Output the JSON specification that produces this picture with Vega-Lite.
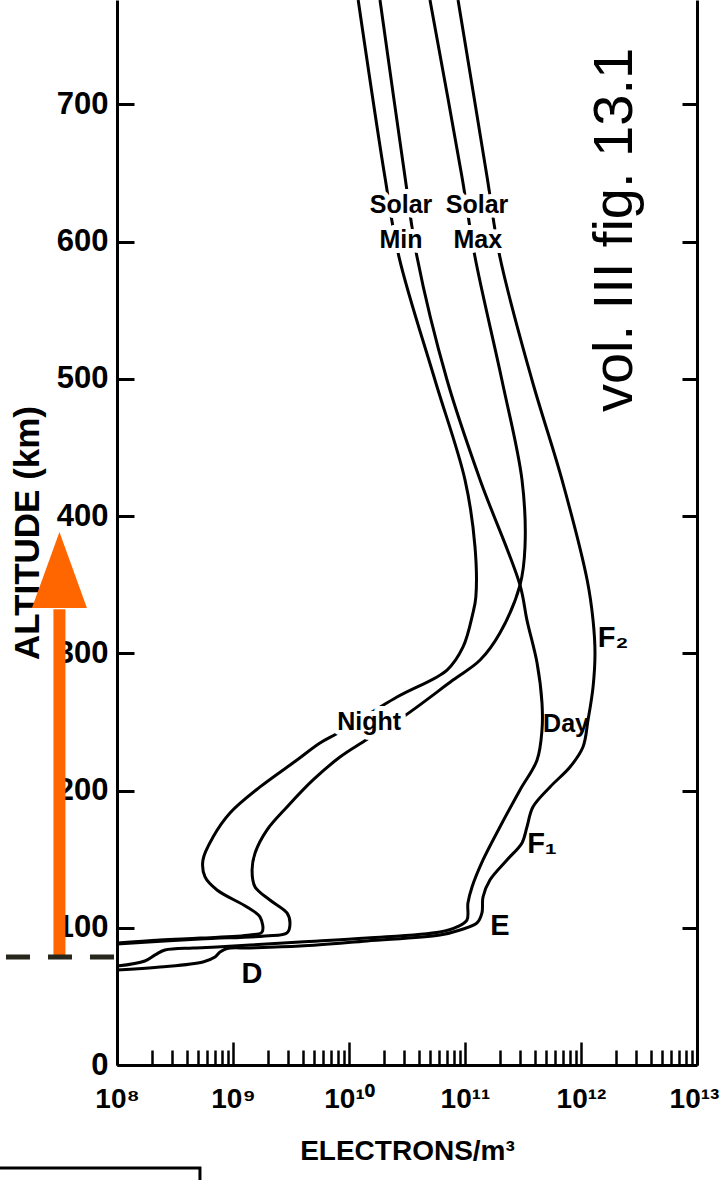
{
  "$schema": "https://vega.github.io/schema/vega-lite/v6.json",
  "width": 580,
  "height": 1065,
  "autosize": {"type": "none"},
  "padding": {"left": 117, "top": 0, "right": 23, "bottom": 115},
  "background": "white",
  "config": {"view": {"stroke": null}, "axis": {"grid": false}},
  "datasets": {
    "curves": [
      {"curve": "Night Solar Min", "i": 0, "n": 1.20e10, "alt": 776},
      {"curve": "Night Solar Min", "i": 1, "n": 2.04e10, "alt": 647.0},
      {"curve": "Night Solar Min", "i": 2, "n": 2.70e10, "alt": 588.7},
      {"curve": "Night Solar Min", "i": 3, "n": 5.51e10, "alt": 499.1},
      {"curve": "Night Solar Min", "i": 4, "n": 1.00e11, "alt": 426.3},
      {"curve": "Night Solar Min", "i": 5, "n": 1.22e11, "alt": 377.4},
      {"curve": "Night Solar Min", "i": 6, "n": 1.24e11, "alt": 341.0},
      {"curve": "Night Solar Min", "i": 7, "n": 1.17e11, "alt": 329.3},
      {"curve": "Night Solar Min", "i": 8, "n": 9.62e10, "alt": 304.6},
      {"curve": "Night Solar Min", "i": 9, "n": 7.00e10, "alt": 287.8},
      {"curve": "Night Solar Min", "i": 10, "n": 2.59e10, "alt": 268.1},
      {"curve": "Night Solar Min", "i": 11, "n": 8.04e9, "alt": 241.9},
      {"curve": "Night Solar Min", "i": 12, "n": 5.62e9, "alt": 234.6},
      {"curve": "Night Solar Min", "i": 13, "n": 3.56e9, "alt": 222.2},
      {"curve": "Night Solar Min", "i": 14, "n": 1.71e9, "alt": 202.6},
      {"curve": "Night Solar Min", "i": 15, "n": 9.42e8, "alt": 183.6},
      {"curve": "Night Solar Min", "i": 16, "n": 6.73e8, "alt": 166.1},
      {"curve": "Night Solar Min", "i": 17, "n": 5.51e8, "alt": 149.4},
      {"curve": "Night Solar Min", "i": 18, "n": 5.74e8, "alt": 137.0},
      {"curve": "Night Solar Min", "i": 19, "n": 7.28e8, "alt": 127.5},
      {"curve": "Night Solar Min", "i": 20, "n": 1.32e9, "alt": 115.1},
      {"curve": "Night Solar Min", "i": 21, "n": 1.71e9, "alt": 107.8},
      {"curve": "Night Solar Min", "i": 22, "n": 1.78e9, "alt": 96.9},
      {"curve": "Night Solar Min", "i": 23, "n": 1.40e9, "alt": 94.7},
      {"curve": "Night Solar Min", "i": 24, "n": 5.20e8, "alt": 92.5},
      {"curve": "Night Solar Min", "i": 25, "n": 2.35e8, "alt": 91.1},
      {"curve": "Night Solar Min", "i": 26, "n": 1.00e8, "alt": 88.9},

      {"curve": "Night Solar Max", "i": 0, "n": 4.99e10, "alt": 776},
      {"curve": "Night Solar Max", "i": 1, "n": 9.42e10, "alt": 647.0},
      {"curve": "Night Solar Max", "i": 2, "n": 1.22e11, "alt": 588.7},
      {"curve": "Night Solar Max", "i": 3, "n": 2.08e11, "alt": 499.1},
      {"curve": "Night Solar Max", "i": 4, "n": 3.10e11, "alt": 426.3},
      {"curve": "Night Solar Max", "i": 5, "n": 3.29e11, "alt": 377.4},
      {"curve": "Night Solar Max", "i": 6, "n": 2.98e11, "alt": 349.7},
      {"curve": "Night Solar Max", "i": 7, "n": 2.00e11, "alt": 314.8},
      {"curve": "Night Solar Max", "i": 8, "n": 1.35e11, "alt": 295.1},
      {"curve": "Night Solar Max", "i": 9, "n": 7.88e10, "alt": 280.5},
      {"curve": "Night Solar Max", "i": 10, "n": 2.92e10, "alt": 253.6},
      {"curve": "Night Solar Max", "i": 11, "n": 1.32e10, "alt": 235.4},
      {"curve": "Night Solar Max", "i": 12, "n": 8.36e9, "alt": 224.4},
      {"curve": "Night Solar Max", "i": 13, "n": 4.90e9, "alt": 207.7},
      {"curve": "Night Solar Max", "i": 14, "n": 2.92e9, "alt": 188.0},
      {"curve": "Night Solar Max", "i": 15, "n": 1.96e9, "alt": 171.2},
      {"curve": "Night Solar Max", "i": 16, "n": 1.55e9, "alt": 154.5},
      {"curve": "Night Solar Max", "i": 17, "n": 1.46e9, "alt": 142.1},
      {"curve": "Night Solar Max", "i": 18, "n": 1.55e9, "alt": 129.7},
      {"curve": "Night Solar Max", "i": 19, "n": 2.08e9, "alt": 120.2},
      {"curve": "Night Solar Max", "i": 20, "n": 2.92e9, "alt": 110.8},
      {"curve": "Night Solar Max", "i": 21, "n": 3.10e9, "alt": 103.5},
      {"curve": "Night Solar Max", "i": 22, "n": 2.92e9, "alt": 96.2},
      {"curve": "Night Solar Max", "i": 23, "n": 1.89e9, "alt": 94.0},
      {"curve": "Night Solar Max", "i": 24, "n": 5.20e8, "alt": 91.8},
      {"curve": "Night Solar Max", "i": 25, "n": 1.00e8, "alt": 88.2},

      {"curve": "Day Solar Min", "i": 0, "n": 1.85e10, "alt": 776},
      {"curve": "Day Solar Min", "i": 1, "n": 3.04e10, "alt": 647.0},
      {"curve": "Day Solar Min", "i": 2, "n": 3.86e10, "alt": 588.7},
      {"curve": "Day Solar Min", "i": 3, "n": 7.00e10, "alt": 499.1},
      {"curve": "Day Solar Min", "i": 4, "n": 1.35e11, "alt": 426.3},
      {"curve": "Day Solar Min", "i": 5, "n": 2.98e11, "alt": 349.7},
      {"curve": "Day Solar Min", "i": 6, "n": 3.42e11, "alt": 324.2},
      {"curve": "Day Solar Min", "i": 7, "n": 4.18e11, "alt": 292.9},
      {"curve": "Day Solar Min", "i": 8, "n": 4.61e11, "alt": 263.8},
      {"curve": "Day Solar Min", "i": 9, "n": 4.61e11, "alt": 244.1},
      {"curve": "Day Solar Min", "i": 10, "n": 4.18e11, "alt": 222.2},
      {"curve": "Day Solar Min", "i": 11, "n": 2.98e11, "alt": 200.4},
      {"curve": "Day Solar Min", "i": 12, "n": 2.00e11, "alt": 173.4},
      {"curve": "Day Solar Min", "i": 13, "n": 1.43e11, "alt": 149.4},
      {"curve": "Day Solar Min", "i": 14, "n": 1.15e11, "alt": 129.7},
      {"curve": "Day Solar Min", "i": 15, "n": 1.06e11, "alt": 118.0},
      {"curve": "Day Solar Min", "i": 16, "n": 1.04e11, "alt": 105.7},
      {"curve": "Day Solar Min", "i": 17, "n": 8.53e10, "alt": 100.6},
      {"curve": "Day Solar Min", "i": 18, "n": 6.08e10, "alt": 96.9},
      {"curve": "Day Solar Min", "i": 19, "n": 1.43e10, "alt": 92.5},
      {"curve": "Day Solar Min", "i": 20, "n": 3.78e9, "alt": 89.6},
      {"curve": "Day Solar Min", "i": 21, "n": 1.40e9, "alt": 87.4},
      {"curve": "Day Solar Min", "i": 22, "n": 7.28e8, "alt": 86.0},
      {"curve": "Day Solar Min", "i": 23, "n": 4.52e8, "alt": 85.3},
      {"curve": "Day Solar Min", "i": 24, "n": 2.59e8, "alt": 83.8},
      {"curve": "Day Solar Min", "i": 25, "n": 2.13e8, "alt": 80.2},
      {"curve": "Day Solar Min", "i": 26, "n": 1.74e8, "alt": 75.8},
      {"curve": "Day Solar Min", "i": 27, "n": 1.00e8, "alt": 72.1},

      {"curve": "Day Solar Max", "i": 0, "n": 8.71e10, "alt": 776},
      {"curve": "Day Solar Max", "i": 1, "n": 1.55e11, "alt": 647.0},
      {"curve": "Day Solar Max", "i": 2, "n": 2.00e11, "alt": 588.7},
      {"curve": "Day Solar Max", "i": 3, "n": 3.78e11, "alt": 499.1},
      {"curve": "Day Solar Max", "i": 4, "n": 6.86e11, "alt": 426.3},
      {"curve": "Day Solar Max", "i": 5, "n": 1.13e12, "alt": 353.4},
      {"curve": "Day Solar Max", "i": 6, "n": 1.27e12, "alt": 324.2},
      {"curve": "Day Solar Max", "i": 7, "n": 1.32e12, "alt": 300.2},
      {"curve": "Day Solar Max", "i": 8, "n": 1.27e12, "alt": 275.4},
      {"curve": "Day Solar Max", "i": 9, "n": 1.15e12, "alt": 251.4},
      {"curve": "Day Solar Max", "i": 10, "n": 1.04e12, "alt": 231.7},
      {"curve": "Day Solar Max", "i": 11, "n": 8.04e11, "alt": 217.1},
      {"curve": "Day Solar Max", "i": 12, "n": 5.41e11, "alt": 202.6},
      {"curve": "Day Solar Max", "i": 13, "n": 3.85e11, "alt": 188.0},
      {"curve": "Day Solar Max", "i": 14, "n": 3.42e11, "alt": 173.4},
      {"curve": "Day Solar Max", "i": 15, "n": 3.10e11, "alt": 161.8},
      {"curve": "Day Solar Max", "i": 16, "n": 2.30e11, "alt": 149.4},
      {"curve": "Day Solar Max", "i": 17, "n": 1.64e11, "alt": 134.8},
      {"curve": "Day Solar Max", "i": 18, "n": 1.43e11, "alt": 122.4},
      {"curve": "Day Solar Max", "i": 19, "n": 1.40e11, "alt": 110.8},
      {"curve": "Day Solar Max", "i": 20, "n": 1.27e11, "alt": 103.5},
      {"curve": "Day Solar Max", "i": 21, "n": 9.06e10, "alt": 98.4},
      {"curve": "Day Solar Max", "i": 22, "n": 6.08e10, "alt": 94.7},
      {"curve": "Day Solar Max", "i": 23, "n": 1.43e10, "alt": 90.4},
      {"curve": "Day Solar Max", "i": 24, "n": 3.78e9, "alt": 86.7},
      {"curve": "Day Solar Max", "i": 25, "n": 1.40e9, "alt": 85.3},
      {"curve": "Day Solar Max", "i": 26, "n": 8.87e8, "alt": 84.9},
      {"curve": "Day Solar Max", "i": 27, "n": 7.73e8, "alt": 82.3},
      {"curve": "Day Solar Max", "i": 28, "n": 7.00e8, "alt": 78.7},
      {"curve": "Day Solar Max", "i": 29, "n": 5.51e8, "alt": 75.1},
      {"curve": "Day Solar Max", "i": 30, "n": 2.35e8, "alt": 71.4},
      {"curve": "Day Solar Max", "i": 31, "n": 1.00e8, "alt": 69.2}
    ],
    "words": [
      {"label": "Solar", "n": 2.81e10, "alt": 620.8},
      {"label": "Min", "n": 2.81e10, "alt": 595.3},
      {"label": "Solar", "n": 1.27e11, "alt": 620.8},
      {"label": "Max", "n": 1.29e11, "alt": 595.3},
      {"label": "Night", "n": 1.49e10, "alt": 244.1}
    ],
    "dayWord": [
      {"label": "Day", "n": 7.43e11, "alt": 242.6}
    ],
    "layers": [
      {"label": "F₂", "n": 1.89e12, "alt": 304.6},
      {"label": "F₁", "n": 4.61e11, "alt": 154.5},
      {"label": "E", "n": 2.00e11, "alt": 94.7},
      {"label": "D", "n": 1.46e9, "alt": 59.7}
    ],
    "note": [
      {"label": "vol. III fig. 13.1", "n": 2.75e12, "alt": 608.4}
    ],
    "level": [
      {"n": 9.8e6, "n2": 1.0e8, "alt": 78.7}
    ],
    "arrow": [
      {"n": 3.19e7, "alt": 78.7, "alt2": 332, "head": 360.7}
    ],
    "box": [
      {"n": 8.87e6, "n2": 5.19e8, "alt": -75.05, "alt2": -95}
    ]
  },
  "layer": [
    {
      "data": {"name": "curves"},
      "mark": {"type": "line", "color": "black", "strokeWidth": 3, "interpolate": "catmull-rom"},
      "encoding": {
        "x": {
          "field": "n", "type": "quantitative",
          "scale": {"type": "log", "domain": [1e8, 1e13], "nice": false},
          "axis": {
            "orient": "bottom",
            "values": [1e8, 1e9, 1e10, 1e11, 1e12, 1e13],
            "tickSize": -23, "tickWidth": 2.5, "tickColor": "black",
            "domainColor": "black", "domainWidth": 3,
            "labelExpr": "'10' + ['⁸','⁹','¹⁰','¹¹','¹²','¹³'][round(log(datum.value)/LN10) - 8]",
            "labelFont": "Liberation Sans",
            "labelFontSize": 28, "labelFontWeight": "bold", "labelColor": "black",
            "labelPadding": 43, "labelFlush": false, "labelOverlap": false,
            "labelOffset": {"condition": {"test": "datum.value > 5e12", "value": -3}, "value": 0},
            "title": "ELECTRONS/m³",
            "titleFont": "Liberation Sans",
            "titleFontSize": 28, "titleFontWeight": "bold", "titleColor": "black",
            "titlePadding": 24, "grid": false
          }
        },
        "y": {
          "field": "alt", "type": "quantitative",
          "scale": {"domain": [0, 776], "nice": false, "zero": false},
          "axis": {
            "orient": "left",
            "values": [0, 100, 200, 300, 400, 500, 600, 700],
            "tickSize": -17, "tickWidth": 3, "tickColor": "black",
            "domainColor": "black", "domainWidth": 3,
            "labelFont": "Liberation Sans",
            "labelFontSize": 31, "labelFontWeight": "bold", "labelColor": "black",
            "labelPadding": 26, "labelOverlap": false,
            "title": "ALTITUDE (km)",
            "titleFont": "Liberation Sans", "titleFontSize": 35, "titleFontWeight": "bold",
            "titleColor": "black", "titlePadding": 11, "grid": false
          }
        },
        "detail": {"field": "curve"},
        "order": {"field": "i", "type": "quantitative"}
      }
    },
    {
      "data": {"name": "words"},
      "mark": {"type": "text", "font": "Liberation Sans", "fontSize": 25, "fontWeight": "bold", "fill": "white", "stroke": "white", "strokeWidth": 10, "strokeJoin": "round", "align": "center", "baseline": "alphabetic"},
      "encoding": {
        "x": {"field": "n", "type": "quantitative", "scale": {"type": "log", "domain": [1e8, 1e13], "nice": false}, "axis": null},
        "y": {"field": "alt", "type": "quantitative", "scale": {"domain": [0, 776], "nice": false, "zero": false}, "axis": null},
        "text": {"field": "label"}
      }
    },
    {
      "data": {"name": "words"},
      "mark": {"type": "text", "font": "Liberation Sans", "fontSize": 25, "fontWeight": "bold", "color": "black", "align": "center", "baseline": "alphabetic"},
      "encoding": {
        "x": {
          "field": "n", "type": "quantitative",
          "scale": {"type": "log", "domain": [1e8, 1e13], "nice": false},
          "axis": {
            "orient": "bottom",
            "values": [2e8, 3e8, 4e8, 5e8, 6e8, 7e8, 8e8, 9e8, 2e9, 3e9, 4e9, 5e9, 6e9, 7e9, 8e9, 9e9, 2e10, 3e10, 4e10, 5e10, 6e10, 7e10, 8e10, 9e10, 2e11, 3e11, 4e11, 5e11, 6e11, 7e11, 8e11, 9e11, 2e12, 3e12, 4e12, 5e12, 6e12, 7e12, 8e12, 9e12],
            "tickSize": -15, "tickWidth": 2.5, "tickColor": "black",
            "domain": false, "labels": false, "title": null, "grid": false
          }
        },
        "y": {
          "field": "alt", "type": "quantitative",
          "scale": {"domain": [0, 776], "nice": false, "zero": false},
          "axis": {
            "orient": "right",
            "values": [100, 200, 300, 400, 500, 600, 700],
            "tickSize": -15, "tickWidth": 3, "tickColor": "black",
            "domainColor": "black", "domainWidth": 3,
            "labels": false, "title": null, "grid": false
          }
        },
        "text": {"field": "label"}
      }
    },
    {
      "data": {"name": "dayWord"},
      "mark": {"type": "text", "font": "Liberation Sans", "fontSize": 25, "fontWeight": "bold", "color": "black", "align": "center", "baseline": "alphabetic"},
      "encoding": {
        "x": {"field": "n", "type": "quantitative", "scale": {"type": "log", "domain": [1e8, 1e13], "nice": false}, "axis": null},
        "y": {"field": "alt", "type": "quantitative", "scale": {"domain": [0, 776], "nice": false, "zero": false}, "axis": null},
        "text": {"field": "label"}
      }
    },
    {
      "data": {"name": "layers"},
      "mark": {"type": "text", "font": "Liberation Sans", "fontSize": 29, "fontWeight": "bold", "color": "black", "align": "center", "baseline": "alphabetic"},
      "encoding": {
        "x": {"field": "n", "type": "quantitative", "scale": {"type": "log", "domain": [1e8, 1e13], "nice": false}, "axis": null},
        "y": {"field": "alt", "type": "quantitative", "scale": {"domain": [0, 776], "nice": false, "zero": false}, "axis": null},
        "text": {"field": "label"}
      }
    },
    {
      "data": {"name": "note"},
      "mark": {"type": "text", "font": "Liberation Sans", "fontSize": 56, "color": "black", "angle": 270, "align": "center", "baseline": "alphabetic"},
      "encoding": {
        "x": {"field": "n", "type": "quantitative", "scale": {"type": "log", "domain": [1e8, 1e13], "nice": false}, "axis": null},
        "y": {"field": "alt", "type": "quantitative", "scale": {"domain": [0, 776], "nice": false, "zero": false}, "axis": null},
        "text": {"field": "label"}
      }
    },
    {
      "data": {"name": "arrow"},
      "mark": {"type": "rule", "color": "#FF6600", "strokeWidth": 12, "strokeCap": "butt"},
      "encoding": {
        "x": {"field": "n", "type": "quantitative", "scale": {"type": "log", "domain": [1e8, 1e13], "nice": false}, "axis": null},
        "y": {"field": "alt", "type": "quantitative", "scale": {"domain": [0, 776], "nice": false, "zero": false}, "axis": null},
        "y2": {"field": "alt2"}
      }
    },
    {
      "data": {"name": "arrow"},
      "mark": {"type": "point", "shape": "M0,-1L0.724,1L-0.724,1Z", "size": 5776, "filled": true, "color": "#FF6600", "opacity": 1, "strokeWidth": 0},
      "encoding": {
        "x": {"field": "n", "type": "quantitative", "scale": {"type": "log", "domain": [1e8, 1e13], "nice": false}, "axis": null},
        "y": {"field": "head", "type": "quantitative", "scale": {"domain": [0, 776], "nice": false, "zero": false}, "axis": null}
      }
    },
    {
      "data": {"name": "level"},
      "mark": {"type": "rule", "color": "#26261c", "strokeWidth": 5, "strokeDash": [24, 18], "strokeDashOffset": 36, "strokeCap": "butt"},
      "encoding": {
        "x": {"field": "n", "type": "quantitative", "scale": {"type": "log", "domain": [1e8, 1e13], "nice": false}, "axis": null},
        "x2": {"field": "n2"},
        "y": {"field": "alt", "type": "quantitative", "scale": {"domain": [0, 776], "nice": false, "zero": false}, "axis": null}
      }
    },
    {
      "data": {"name": "box"},
      "mark": {"type": "rect", "fill": "white", "stroke": "black", "strokeWidth": 3},
      "encoding": {
        "x": {"field": "n", "type": "quantitative", "scale": {"type": "log", "domain": [1e8, 1e13], "nice": false}, "axis": null},
        "x2": {"field": "n2"},
        "y": {"field": "alt", "type": "quantitative", "scale": {"domain": [0, 776], "nice": false, "zero": false}, "axis": null},
        "y2": {"field": "alt2"}
      }
    }
  ],
  "resolve": {"axis": {"x": "independent", "y": "independent"}}
}
